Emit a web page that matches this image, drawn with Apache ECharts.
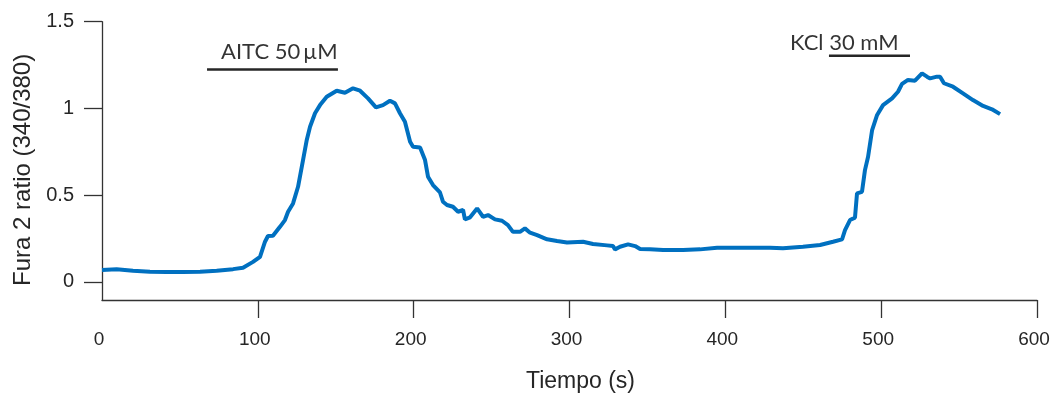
<!DOCTYPE html>
<html>
<head>
<meta charset="utf-8">
<script src="https://cdn.jsdelivr.net/npm/echarts@6/dist/echarts.min.js"></script>
<style>
html,body{margin:0;padding:0;background:#fff;}
#c{width:1051px;height:394px;}
</style>
</head>
<body>
<div id="c"></div>
<script>
// Time (s)
var time = [0,9.4,19.9,30.8,41.5,52,62.9,73.6,84.1,90.5,96.9,101.4,104.6,106.5,109.7,114.2,117.4,119.4,122.6,125.8,129,131.4,133.5,136.7,139.9,144.2,150.6,155.9,161.1,165.6,170.7,175.8,180.3,184.8,188,191.2,194.4,197.7,199.6,204.1,207.3,209.2,212.4,216.9,218.8,221.4,225.2,228.5,231.7,232.9,236.2,240.7,244.5,247.7,252.2,256.7,260.5,263.7,268.2,271.4,274.7,279.2,285.6,292,298.4,308.7,315.1,324.1,327.9,329.2,332.4,337.6,342.1,345.3,351.7,360.1,372.9,383.8,394.7,411.3,428.7,437,449.8,460.8,469.1,474.9,476.8,480,483.2,484.5,487.7,489.6,491.6,494.2,497.4,501.2,507,510.8,513.4,517.2,521.7,526.2,529.4,531.4,535.8,537.8,540.3,546.1,552.5,558.9,565.4,571.1,576.3];
// Fura 2 ratio (340/380)
var ratio = [0.068,0.072,0.064,0.058,0.056,0.056,0.058,0.064,0.073,0.081,0.115,0.144,0.231,0.264,0.265,0.317,0.356,0.404,0.452,0.548,0.702,0.818,0.894,0.972,1.019,1.067,1.102,1.090,1.116,1.102,1.058,1.006,1.019,1.044,1.029,0.972,0.923,0.808,0.779,0.775,0.702,0.606,0.558,0.515,0.462,0.443,0.433,0.404,0.414,0.360,0.372,0.423,0.375,0.385,0.360,0.352,0.327,0.288,0.288,0.308,0.283,0.269,0.245,0.235,0.227,0.231,0.218,0.210,0.206,0.187,0.202,0.216,0.206,0.189,0.187,0.183,0.183,0.187,0.196,0.196,0.196,0.193,0.202,0.212,0.231,0.245,0.298,0.356,0.370,0.510,0.519,0.644,0.721,0.875,0.962,1.019,1.058,1.096,1.141,1.164,1.160,1.202,1.183,1.173,1.183,1.183,1.145,1.125,1.087,1.048,1.014,0.995,0.967];

var xTicks = [0,100,200,300,400,500,600];
var xTickMarks = [100,200,300,400,500,600];
var yTicks = [0,0.5,1,1.5];

// Stimulus application bars and labels
var aitcBar = [[67.4,1.2245],[151.4,1.2245]];
var kclBar = [[466.5,1.304],[518.5,1.304]];
var stimLabels = [
  {name:'AITC 50\u2009\u00b5M', value:[76.4,1.325]},
  {name:'KCl 30 mM', value:[441.5,1.378]}
];

var seriesData = time.map(function(t,i){return [t, ratio[i]];});

var chart = echarts.init(document.getElementById('c'), null, {renderer:'canvas'});
var axisColor = '#333333';
chart.setOption({
  animation:false,
  backgroundColor:'#ffffff',
  grid:{left:102, right:14, top:21.7, bottom:94, containLabel:false, outerBoundsMode:'none'},
  xAxis:{
    type:'value', min:0, max:600,
    name:'Tiempo (s)', nameLocation:'middle', nameGap:70,
    nameTextStyle:{fontFamily:'Liberation Sans', fontSize:23, color:'#262626', padding:[0,0,0,22]},
    axisLine:{show:true, onZero:false, lineStyle:{color:axisColor, width:1.3}},
    axisTick:{show:true, length:18, lineStyle:{color:axisColor, width:1.3}, customValues:xTickMarks},
    axisLabel:{fontFamily:'Liberation Sans', fontSize:19, color:'#262626', margin:30, customValues:xTicks,
      padding:[0,6,0,0]},
    splitLine:{show:false}
  },
  yAxis:{
    type:'value', min:-0.105, max:1.5,
    name:'Fura 2 ratio (340/380)', nameLocation:'middle', nameGap:66, nameRotate:90,
    nameTextStyle:{fontFamily:'Liberation Sans', fontSize:24, color:'#262626', padding:[0,18,0,0]},
    axisLine:{show:true, onZero:false, lineStyle:{color:axisColor, width:1.3}},
    axisTick:{show:true, length:18, lineStyle:{color:axisColor, width:1.3}, customValues:yTicks},
    axisLabel:{fontFamily:'Liberation Sans', fontSize:20, color:'#262626', margin:28, customValues:yTicks,
      formatter:function(v){return String(v);}},
    splitLine:{show:false}
  },
  series:[
    {type:'line', data:seriesData, showSymbol:false, symbol:'none', smooth:false,
     lineStyle:{color:'#0070C0', width:4}, silent:true},
    {type:'line', data:aitcBar, symbol:'none', lineStyle:{color:'#262626', width:2.5}, silent:true},
    {type:'line', data:kclBar, symbol:'none', lineStyle:{color:'#262626', width:2.5}, silent:true},
    {type:'scatter', data:stimLabels, symbolSize:0, silent:true,
     label:{show:true, position:'right', distance:0, formatter:function(p){return p.name;},
       fontFamily:'Lato', fontSize:22, color:'#000000', align:'left', verticalAlign:'middle'}}
  ]
});
</script>
</body>
</html>
